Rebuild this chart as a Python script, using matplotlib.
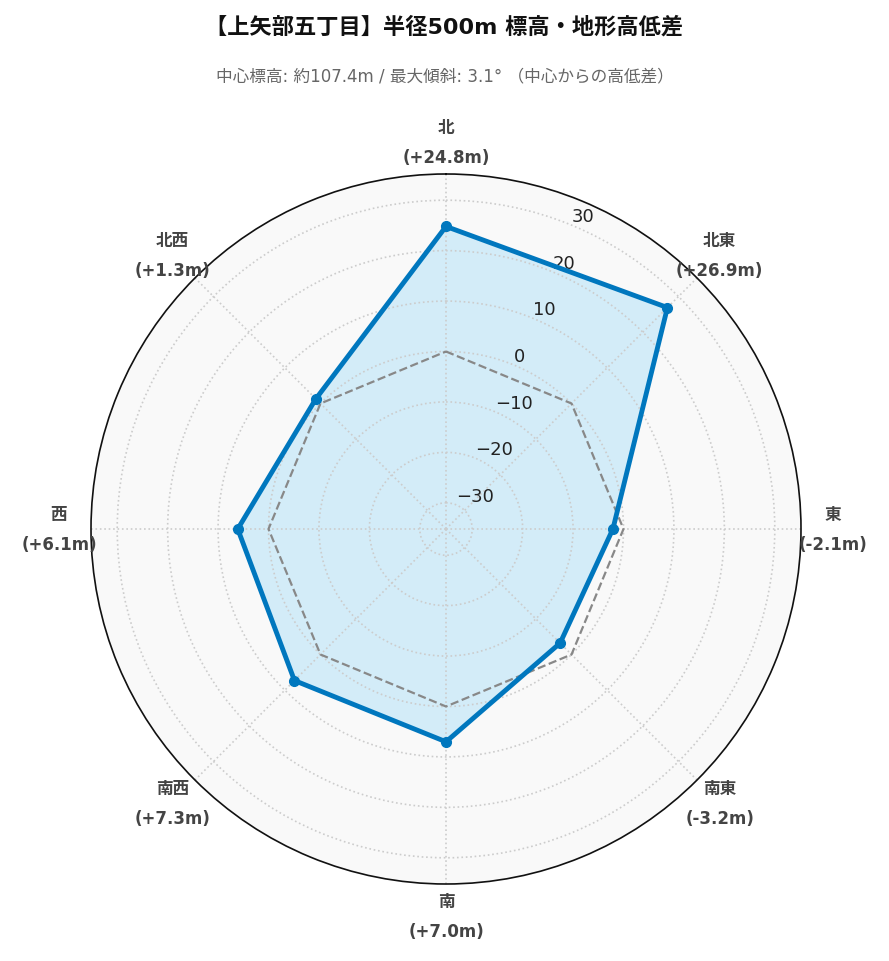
import numpy as np
import matplotlib
matplotlib.use("Agg")
import matplotlib.pyplot as plt

plt.rcParams['font.family'] = ['DejaVu Sans', 'Noto Sans CJK JP']

directions = ['北', '北東', '東', '南東', '南', '南西', '西', '北西']
values = [24.8, 26.9, -2.1, -3.2, 7.0, 7.3, 6.1, 1.3]
baseline = [0, 0, 0, 0, 0, 0, 0, 0]
rticks = [-30, -20, -10, 0, 10, 20, 30]

W, H = 889, 962
fig = plt.figure(figsize=(W/100, H/100), dpi=100)
cx, cy, R = 446, 530, 355
ax = fig.add_axes([(cx-R)/W, 1-(cy+R)/H, 2*R/W, 2*R/H], projection='polar')
ax.set_theta_zero_location('N')
ax.set_theta_direction(-1)
ax.set_ylim(-35.2, 35.2)
ax.set_facecolor('#f9f9f9')

theta = np.deg2rad(np.arange(8) * 45)
tc = np.append(theta, theta[0])
vc = np.append(values, values[0])
bc = np.append(baseline, baseline[0])

ax.fill(tc, vc, color='#d3ecf8', zorder=1)
ax.plot(tc, bc, ls='--', color='#888888', lw=1.6, zorder=2)
ax.plot(tc, vc, color='#0077be', lw=3.5, zorder=3)
ax.plot(theta, values, 'o', color='#0077be', ms=7, zorder=4)

ax.set_xticks(theta)
ax.set_xticklabels([])
ax.set_yticks(rticks)
ax.set_yticklabels(['−30', '−20', '−10', '0', '10', '20', '30'], fontsize=13, color='#222222')
ax.set_rlabel_position(22.5)
ax.grid(True, color='#cccccc', ls=':', lw=1.2)
ax.spines['polar'].set_color('#111111')
ax.spines['polar'].set_linewidth(1.2)

for t, d, v in zip(theta, directions, values):
    rr = R + 32
    x = cx + rr*np.sin(t)
    y = cy - rr*np.cos(t)
    fig.text(x/W, 1-(y-15)/H, d, ha='center', va='center', fontsize=12, fontweight='bold', color='#444444')
    fig.text(x/W, 1-(y+15)/H, f'({v:+.1f}m)', ha='center', va='center', fontsize=12, fontweight='bold', color='#444444')

fig.text(0.5, 1-27/H, '【上矢部五丁目】半径500m 標高・地形高低差', ha='center', va='center', fontsize=16, fontweight='bold', color='#111111')
fig.text(0.5, 1-76/H, '中心標高: 約107.4m / 最大傾斜: 3.1° （中心からの高低差）', ha='center', va='center', fontsize=12, color='#666666')

fig.savefig('out.png', dpi=100, facecolor='white')
